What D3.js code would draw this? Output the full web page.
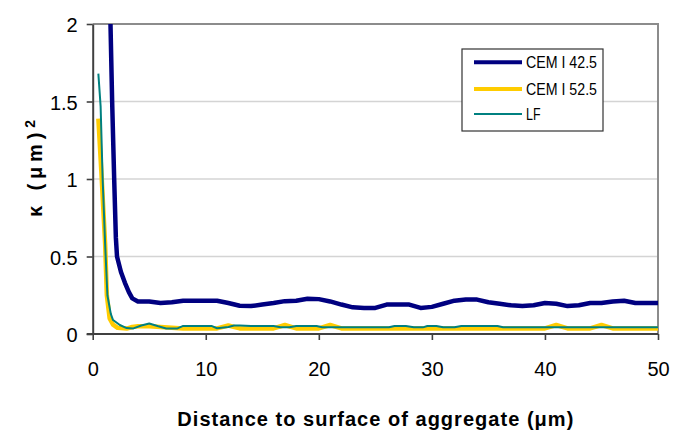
<!DOCTYPE html>
<html>
<head>
<meta charset="utf-8">
<script src="https://cdn.jsdelivr.net/npm/d3@7"></script>
<style>
  html, body { margin: 0; padding: 0; background: #fff; }
  svg { display: block; font-family: "Liberation Sans", Arial, sans-serif; }
</style>
</head>
<body>
<svg id="chart" width="674" height="433"></svg>
<script>
// Permeability profile κ versus distance to the aggregate surface (µm)
const seriesNames = ["CEM I 42.5", "CEM I 52.5", "LF"];
const seriesColors = ["#000080", "#FFCC00", "#008080"];
const seriesWidths = [4.5, 4.5, 2];

const cem425X = [1.5, 1.72, 1.9, 2.05, 2.15, 2.5, 2.85, 3.2, 3.5, 4, 5, 6, 7, 8, 9, 10, 11, 12, 13, 14, 15, 16, 17, 18, 19, 20,
  21, 22, 23, 24, 25, 26, 27, 28, 29, 30, 31, 32, 33, 34, 35, 36, 37, 38, 39, 40, 41, 42, 43, 44, 45, 46, 47, 48, 49, 50];
const cem425Y = [2.25, 1.5, 1.0, 0.62, 0.5, 0.4, 0.33, 0.27, 0.23, 0.21, 0.21, 0.2, 0.205, 0.215, 0.215, 0.215, 0.215, 0.2, 0.182, 0.18, 0.19, 0.2, 0.212, 0.215, 0.228, 0.225,
  0.21, 0.19, 0.172, 0.168, 0.168, 0.19, 0.19, 0.19, 0.168, 0.175, 0.195, 0.215, 0.222, 0.222, 0.205, 0.195, 0.185, 0.18, 0.185, 0.2, 0.195, 0.18, 0.185, 0.2, 0.2, 0.21, 0.215, 0.2, 0.2, 0.2];

const cem525X = [0.5, 0.8, 1.1, 1.25, 1.5, 1.8, 2.2, 3, 3.5, 4, 5, 6, 7, 8, 9, 10, 11, 12, 13, 14, 15, 16, 17, 18, 19, 20,
  21, 22, 23, 24, 25, 26, 27, 28, 29, 30, 31, 32, 33, 34, 35, 36, 37, 38, 39, 40, 41, 42, 43, 44, 45, 46, 47, 48, 49, 50];
const cem525Y = [1.39, 1.0, 0.58, 0.25, 0.1, 0.06, 0.04, 0.035, 0.045, 0.05, 0.05, 0.045, 0.04, 0.036, 0.036, 0.036, 0.036, 0.055, 0.036, 0.036, 0.036, 0.036, 0.058, 0.036, 0.036, 0.036,
  0.058, 0.036, 0.036, 0.036, 0.036, 0.036, 0.036, 0.036, 0.036, 0.036, 0.036, 0.036, 0.036, 0.036, 0.036, 0.036, 0.036, 0.036, 0.036, 0.036, 0.058, 0.036, 0.036, 0.036, 0.058, 0.036, 0.036, 0.036, 0.036, 0.036];

const lfX = [0.5, 0.7, 0.88, 1.1, 1.3, 1.6, 1.8, 2.4, 3, 3.6, 4.3, 5, 5.8, 6.5, 7.5, 8, 9, 10, 10.5, 11, 12, 12.5, 13, 14, 15, 16,
  16.6, 17.4, 18, 19.8, 20.3, 26.2, 26.7, 27.7, 28.4, 29.2, 29.6, 30.4, 31, 32, 32.6, 35.8, 36.3, 40, 45, 50];
const lfY = [1.68, 1.47, 1.0, 0.58, 0.25, 0.13, 0.09, 0.058, 0.038, 0.036, 0.055, 0.068, 0.05, 0.036, 0.036, 0.052, 0.052, 0.052, 0.052, 0.037, 0.045, 0.055, 0.055, 0.052, 0.052, 0.052,
  0.043, 0.043, 0.052, 0.052, 0.043, 0.043, 0.052, 0.052, 0.043, 0.043, 0.052, 0.052, 0.043, 0.043, 0.052, 0.052, 0.043, 0.043, 0.043, 0.043];

const xTicks = [0, 10, 20, 30, 40, 50];
const yTicks = [0, 0.5, 1, 1.5, 2];
const xTitle = "Distance to surface of aggregate (μm)";

const seriesX = [cem425X, cem525X, lfX];
const seriesY = [cem425Y, cem525Y, lfY];

const svg = d3.select("#chart");
const plot = { left: 92.7, right: 658, top: 24, bottom: 334 };

const x = d3.scaleLinear().domain([0, 50]).range([plot.left, plot.right]);
const y = d3.scaleLinear().domain([0, 2]).range([plot.bottom, plot.top]);

// horizontal gridlines
svg.append("g")
  .selectAll("line")
  .data(yTicks.filter(v => v > 0 && v < 2))
  .join("line")
  .attr("x1", plot.left).attr("x2", plot.right)
  .attr("y1", d => y(d)).attr("y2", d => y(d))
  .attr("stroke", "#d4d4d4").attr("stroke-width", 1.5);

// plot area frame (top and right)
svg.append("path")
  .attr("d", `M${plot.left},${y(2)}H${plot.right}V${plot.bottom}`)
  .attr("fill", "none").attr("stroke", "#8c8c8c").attr("stroke-width", 2);

// series lines, clipped to the plot area
svg.append("clipPath").attr("id", "plotClip")
  .append("rect")
  .attr("x", plot.left).attr("y", plot.top)
  .attr("width", plot.right - plot.left).attr("height", plot.bottom - plot.top);

const line = d3.line().x(d => x(d[0])).y(d => y(d[1]));
const lines = svg.append("g").attr("clip-path", "url(#plotClip)");
seriesNames.forEach((name, i) => {
  const pts = seriesX[i].map((v, j) => [v, seriesY[i][j]]);
  lines.append("path")
    .datum(pts)
    .attr("d", line)
    .attr("fill", "none")
    .attr("stroke", seriesColors[i])
    .attr("stroke-width", seriesWidths[i])
    .attr("stroke-linejoin", "round");
});

// axes
const yAxis = svg.append("g")
  .attr("transform", `translate(${plot.left},0)`)
  .call(d3.axisLeft(y).tickValues(yTicks).tickFormat(d => String(d)).tickSize(6).tickPadding(9).tickSizeOuter(0));
const xAxis = svg.append("g")
  .attr("transform", `translate(0,${plot.bottom})`)
  .call(d3.axisBottom(x).tickValues(xTicks).tickFormat(d => String(d)).tickSize(6).tickPadding(22).tickSizeOuter(0));

[yAxis, xAxis].forEach(g => {
  g.select(".domain").attr("stroke", "#404040").attr("stroke-width", 2);
  g.selectAll(".tick line").attr("stroke", "#404040").attr("stroke-width", 1.6);
  g.selectAll(".tick text").attr("font-size", 20).attr("fill", "#000")
    .attr("font-family", "'Liberation Sans', Arial, sans-serif");
});
yAxis.selectAll(".tick text").attr("dy", "0.38em");
// let the x-axis line run under the y=0 tick
xAxis.select(".domain").attr("d", `M${plot.left - 6},0H${plot.right}`);

// axis titles
svg.append("text")
  .attr("x", (plot.left + plot.right) / 2).attr("y", 426)
  .attr("text-anchor", "middle")
  .attr("font-size", 20).attr("font-weight", "bold")
  .attr("textLength", 396).attr("lengthAdjust", "spacing")
  .text(xTitle);

const yTitle = svg.append("text")
  .attr("transform", "translate(41.5,168.5) rotate(-90)")
  .attr("text-anchor", "middle")
  .attr("font-size", 20).attr("font-weight", "bold")
  .attr("textLength", 97).attr("lengthAdjust", "spacing");
yTitle.append("tspan").text("κ (μm)");
yTitle.append("tspan").attr("dy", "-0.45em").attr("font-size", 14).text("2");

// legend
const legend = svg.append("g");
legend.append("rect")
  .attr("x", 462).attr("y", 49).attr("width", 141).attr("height", 82)
  .attr("fill", "#fff").attr("stroke", "#333").attr("stroke-width", 1.2);
const rowY = [62.3, 89, 114];
const legendTextLen = [71, 71, 14.5];
seriesNames.forEach((name, i) => {
  legend.append("line")
    .attr("x1", 474).attr("x2", 522)
    .attr("y1", rowY[i]).attr("y2", rowY[i])
    .attr("stroke", seriesColors[i]).attr("stroke-width", seriesWidths[i] - (i < 2 ? 0.5 : 0));
  legend.append("text")
    .attr("x", 526).attr("y", rowY[i] + 6)
    .attr("font-size", 17)
    .attr("textLength", legendTextLen[i]).attr("lengthAdjust", "spacingAndGlyphs")
    .text(name);
});
</script>
</body>
</html>
